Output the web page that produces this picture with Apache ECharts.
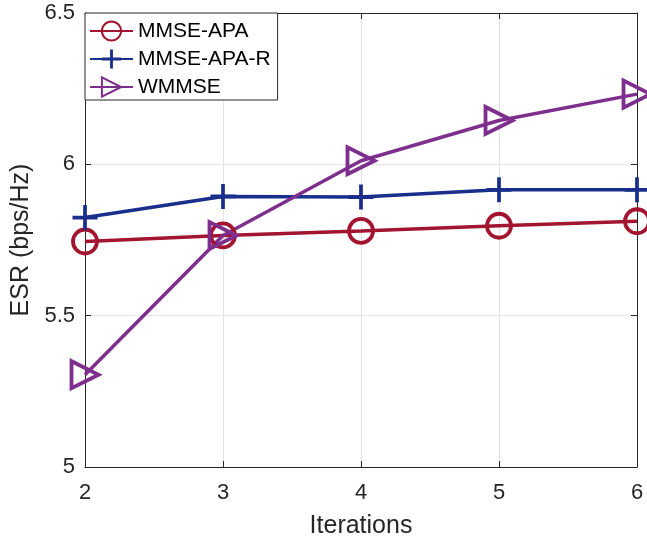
<!DOCTYPE html>
<html><head><meta charset="utf-8">
<script src="https://cdn.jsdelivr.net/npm/echarts@6/dist/echarts.min.js"></script>
<style>html,body{margin:0;padding:0;background:#fff}#c{width:647px;height:541px}</style>
</head><body><div id="c"></div>
<script>
const iterations = [2, 3, 4, 5, 6];
const mmseApa = [5.745, 5.765, 5.780, 5.797, 5.812];
const mmseApaR = [5.824, 5.894, 5.892, 5.916, 5.916];
const wmmse = [5.305, 5.765, 6.012, 6.145, 6.232];
const seriesNames = ['MMSE-APA', 'MMSE-APA-R', 'WMMSE'];
const xTicks = [2, 3, 4, 5, 6];
const yTicks = [5, 5.5, 6, 6.5];

const red = '#A2142F', blue = '#1A2F8C', purple = '#7E2F8E';
const font = 'Liberation Sans, Arial, sans-serif';
const pair = a => a.map((v, i) => [iterations[i], v]);
const plus = 'path://M5.1,0H6.9V5.1H12V6.9H6.9V12H5.1V6.9H0V5.1H5.1Z';

const chart = echarts.init(document.getElementById('c'));
const axisCommon = {
  axisLine: {show: true, lineStyle: {color: '#262626', width: 1}},
  axisTick: {show: true, inside: true, length: 6, lineStyle: {color: '#262626'}},
};
chart.setOption({
  animation: false,
  grid: {left: 85, right: 10, top: 13, bottom: 74, show: false,
    containLabel: false, outerBoundsMode: 'none'},
  legend: {
    left: 85, top: 13, orient: 'vertical', data: seriesNames,
    backgroundColor: '#fff', borderColor: '#262626', borderWidth: 1,
    padding: [6, 7, 1, 4], itemGap: 4, itemWidth: 43, itemHeight: 24,
    textStyle: {fontFamily: font, fontSize: 21, lineHeight: 24, color: '#000'}
  },
  xAxis: [{
    type: 'value', min: 2, max: 6, interval: 1,
    name: 'Iterations', nameLocation: 'middle', nameGap: 47,
    nameTextStyle: {fontFamily: font, fontSize: 25, color: '#262626'},
    axisLabel: {fontFamily: font, fontSize: 22, color: '#262626', margin: 15,
      formatter: v => xTicks.includes(v) ? String(v) : ''},
    splitLine: {show: true, lineStyle: {color: '#e3e3e3'}},
    ...axisCommon
  }, {
    type: 'value', min: 2, max: 6, interval: 1, position: 'top',
    axisLabel: {show: false}, splitLine: {show: false}, ...axisCommon
  }],
  yAxis: [{
    type: 'value', min: 5, max: 6.5, interval: 0.5,
    name: 'ESR (bps/Hz)', nameLocation: 'middle', nameGap: 46,
    nameTextStyle: {fontFamily: font, fontSize: 25, color: '#262626'},
    axisLabel: {fontFamily: font, fontSize: 22, color: '#262626', margin: 10,
      formatter: v => yTicks.includes(v) ? String(v) : ''},
    splitLine: {show: true, lineStyle: {color: '#e3e3e3'}},
    ...axisCommon
  }, {
    type: 'value', min: 5, max: 6.5, interval: 0.5, position: 'right',
    axisLabel: {show: false}, splitLine: {show: false}, ...axisCommon
  }],
  series: [{
    name: seriesNames[0], type: 'line', data: pair(mmseApa),
    color: red, symbol: 'circle', symbolSize: 24,
    lineStyle: {color: red, width: 3.5},
    itemStyle: {color: 'rgba(255,255,255,0)', borderColor: red, borderWidth: 3.8}
  }, {
    name: seriesNames[1], type: 'line', data: pair(mmseApaR),
    color: blue, symbol: plus, symbolSize: 25,
    lineStyle: {color: blue, width: 3.5},
    itemStyle: {color: blue, borderWidth: 0}
  }, {
    name: seriesNames[2], type: 'line', data: pair(wmmse),
    color: purple, symbol: 'triangle', symbolRotate: -90, symbolSize: 27,
    lineStyle: {color: purple, width: 3.5},
    itemStyle: {color: 'rgba(255,255,255,0)', borderColor: purple, borderWidth: 3.8}
  }]
});
</script></body></html>
